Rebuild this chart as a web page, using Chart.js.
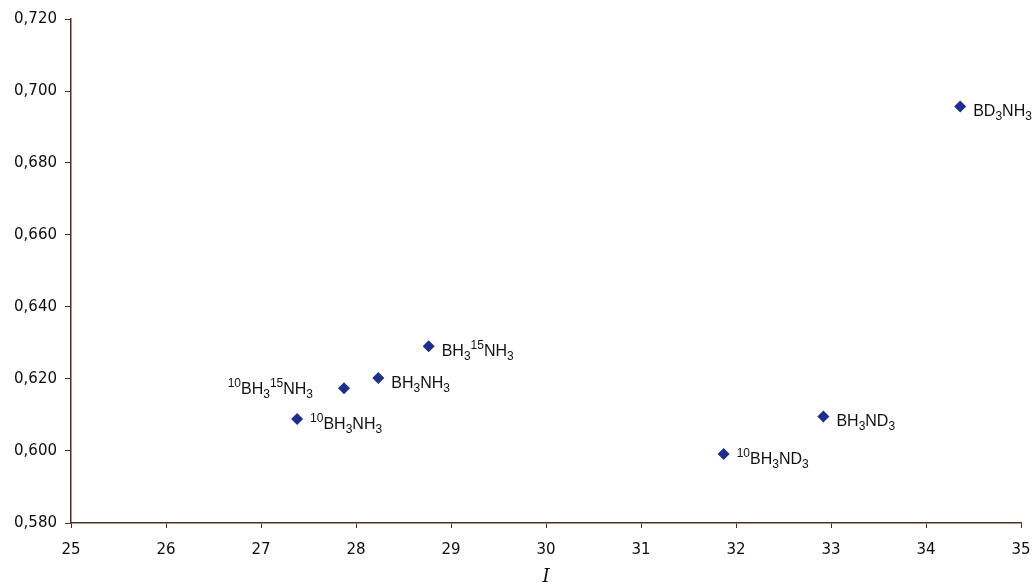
<!DOCTYPE html>
<html>
<head>
<meta charset="utf-8">
<script src="https://cdn.jsdelivr.net/npm/chart.js@4"></script>
<style>
  html, body { margin: 0; padding: 0; background: #fff; overflow: hidden; }
  canvas { display: block; }
</style>
</head>
<body>
<canvas id="scatter-chart" width="1034" height="584"></canvas>
<script>
// Valores
const compounds = ["BD_3NH_3", "BH_3ND_3", "^10BH_3ND_3", "BH_3^15NH_3", "BH_3NH_3", "^10BH_3^15NH_3", "^10BH_3NH_3"];
const valuesI = [34.36, 32.92, 31.87, 28.765, 28.235, 27.874, 27.38];
const valuesY = [0.6957, 0.6096, 0.5992, 0.6291, 0.6203, 0.6174, 0.6089];
const xTicks = [25, 26, 27, 28, 29, 30, 31, 32, 33, 34, 35];
const yTicks = [0.580, 0.600, 0.620, 0.640, 0.660, 0.680, 0.700, 0.720];

const axisColor = "#4a3026";
const tickColor = "#0d0d0d";
const pointColor = "#1f2d8c";

// quebra "^10BH_3" em pedaços normal / sobrescrito / subscrito
function parseFormula(str) {
    const parts = [];
    let i = 0;
    while (i < str.length) {
        const c = str[i];
        if (c === "_" || c === "^") {
            let j = i + 1;
            while (j < str.length && /[0-9]/.test(str[j])) j++;
            parts.push({ text: str.slice(i + 1, j), kind: c === "_" ? "sub" : "sup" });
            i = j;
        } else {
            let j = i;
            while (j < str.length && str[j] !== "_" && str[j] !== "^") j++;
            parts.push({ text: str.slice(i, j), kind: "normal" });
            i = j;
        }
    }
    return parts;
}

const formulaLabels = {
    id: "formulaLabels",
    afterDatasetsDraw(chart, args, opts) {
        const ctx = chart.ctx;
        const meta = chart.getDatasetMeta(0);
        const bigFont = "16px 'Liberation Sans', Arial, sans-serif";
        const smallFont = "12px 'Liberation Sans', Arial, sans-serif";
        ctx.save();
        ctx.fillStyle = "#111";
        ctx.textBaseline = "alphabetic";
        ctx.textAlign = "left";
        meta.data.forEach((pt, idx) => {
            const parts = parseFormula(compounds[idx]);
            let width = 0;
            parts.forEach(p => {
                ctx.font = p.kind === "normal" ? bigFont : smallFont;
                p.w = ctx.measureText(p.text).width;
                width += p.w;
            });
            const onLeft = opts.leftLabels.includes(idx);
            let x = onLeft ? pt.x - opts.leftGap - width : pt.x + opts.gap;
            const base = pt.y + (onLeft ? 0 : opts.drop) + 6;
            parts.forEach(p => {
                ctx.font = p.kind === "normal" ? bigFont : smallFont;
                let y = base;
                if (p.kind === "sub") y = base + 4;
                if (p.kind === "sup") y = base - 7;
                ctx.fillText(p.text, x, y);
                x += p.w;
            });
        });
        ctx.restore();
    }
};

const config = {
    type: "scatter",
    data: {
        datasets: [{
            label: "dados",
            data: valuesI.map((v, i) => ({ x: v, y: valuesY[i] })),
            pointStyle: "rectRot",
            pointRadius: 6,
            pointHoverRadius: 6,
            backgroundColor: pointColor,
            borderColor: pointColor,
            borderWidth: 0
        }]
    },
    options: {
        responsive: false,
        animation: false,
        events: [],
        layout: { padding: { left: 0, right: 13, top: 19, bottom: 0 } },
        scales: {
            x: {
                type: "linear",
                min: xTicks[0],
                max: xTicks[xTicks.length - 1],
                afterBuildTicks: s => { s.ticks = xTicks.map(v => ({ value: v })); },
                afterFit: s => {
                    s.height = 61;
                    s.paddingLeft = 0;
                    s.paddingRight = 0;
                },
                grid: { display: true, drawOnChartArea: false, drawTicks: true, tickLength: 5, color: axisColor },
                border: { display: true, color: axisColor, width: 1.5 },
                ticks: {
                    color: tickColor,
                    padding: 13,
                    maxRotation: 0,
                    font: { family: "'DejaVu Sans', Verdana, sans-serif", size: 15 },
                    callback: v => String(v)
                },
                title: {
                    display: true,
                    text: "I",
                    color: tickColor,
                    padding: { top: 0, bottom: 0 },
                    font: { family: "'DejaVu Serif', 'Liberation Serif', serif", size: 18, style: "italic", lineHeight: 0.7 }
                }
            },
            y: {
                type: "linear",
                min: yTicks[0],
                max: yTicks[yTicks.length - 1],
                afterBuildTicks: s => { s.ticks = yTicks.map(v => ({ value: v })); },
                afterFit: s => {
                    s.width = 71;
                    s.paddingTop = 0;
                    s.paddingBottom = 0;
                },
                grid: { display: true, drawOnChartArea: false, drawTicks: true, tickLength: 6, color: axisColor },
                border: { display: true, color: axisColor, width: 1.5 },
                ticks: {
                    color: tickColor,
                    padding: 8,
                    font: { family: "'DejaVu Sans', Verdana, sans-serif", size: 15 },
                    callback: v => v.toFixed(3).replace(".", ",")
                }
            }
        },
        plugins: {
            legend: { display: false },
            tooltip: { enabled: false },
            formulaLabels: { gap: 13, leftGap: 31, drop: 4, leftLabels: [5] }
        }
    },
    plugins: [formulaLabels]
};

new Chart(document.getElementById("scatter-chart"), config);
</script>
</body>
</html>
